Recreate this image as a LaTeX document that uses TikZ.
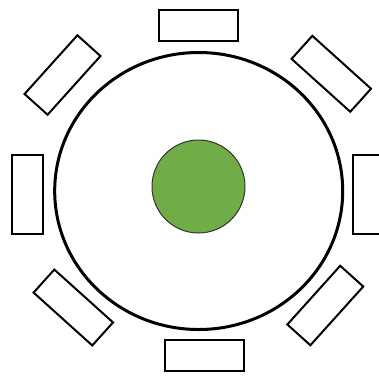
\documentclass[tikz,border=0pt]{standalone}
\usepackage{tikz}
\usetikzlibrary{positioning,shapes.geometric}
\usepackage{xcolor}
\definecolor{HubGreen}{RGB}{112,173,71}

\begin{document}
\begin{tikzpicture}[x=1pt,y=-1pt,
  seat/.style={draw=black,fill=white,line width=2pt,minimum width=79pt,minimum height=31pt,inner sep=0pt},
  tabletop/.style={ellipse,draw=black,line width=3pt,minimum width=288pt,minimum height=277pt,inner sep=0pt},
  hub/.style={circle,draw=black!80,fill=HubGreen,line width=1pt,minimum size=93pt,inner sep=0pt}
]
  \clip (0,0) rectangle (379,376);
  \node[tabletop] (table) at (198.7,191) {};
  \node[hub] (hub) at (198.5,186.5) {};
  % seats round the table
  \node[seat] (seatN) at (198.5,25.5) {};
  \node[seat] (seatS) at (204.5,355.5) {};
  \node[seat,rotate=90] (seatW) at (27,194.5) {};
  \node[seat,rotate=90] (seatE) at (368.5,194.5) {};
  \node[seat,rotate=48] (seatNW) at (62.5,75) {};
  \node[seat,rotate=-42] (seatNE) at (331.3,73.8) {};
  \node[seat,rotate=-42] (seatSW) at (73.3,307.5) {};
  \node[seat,rotate=48] (seatSE) at (325.3,305.5) {};
\end{tikzpicture}
\end{document}
